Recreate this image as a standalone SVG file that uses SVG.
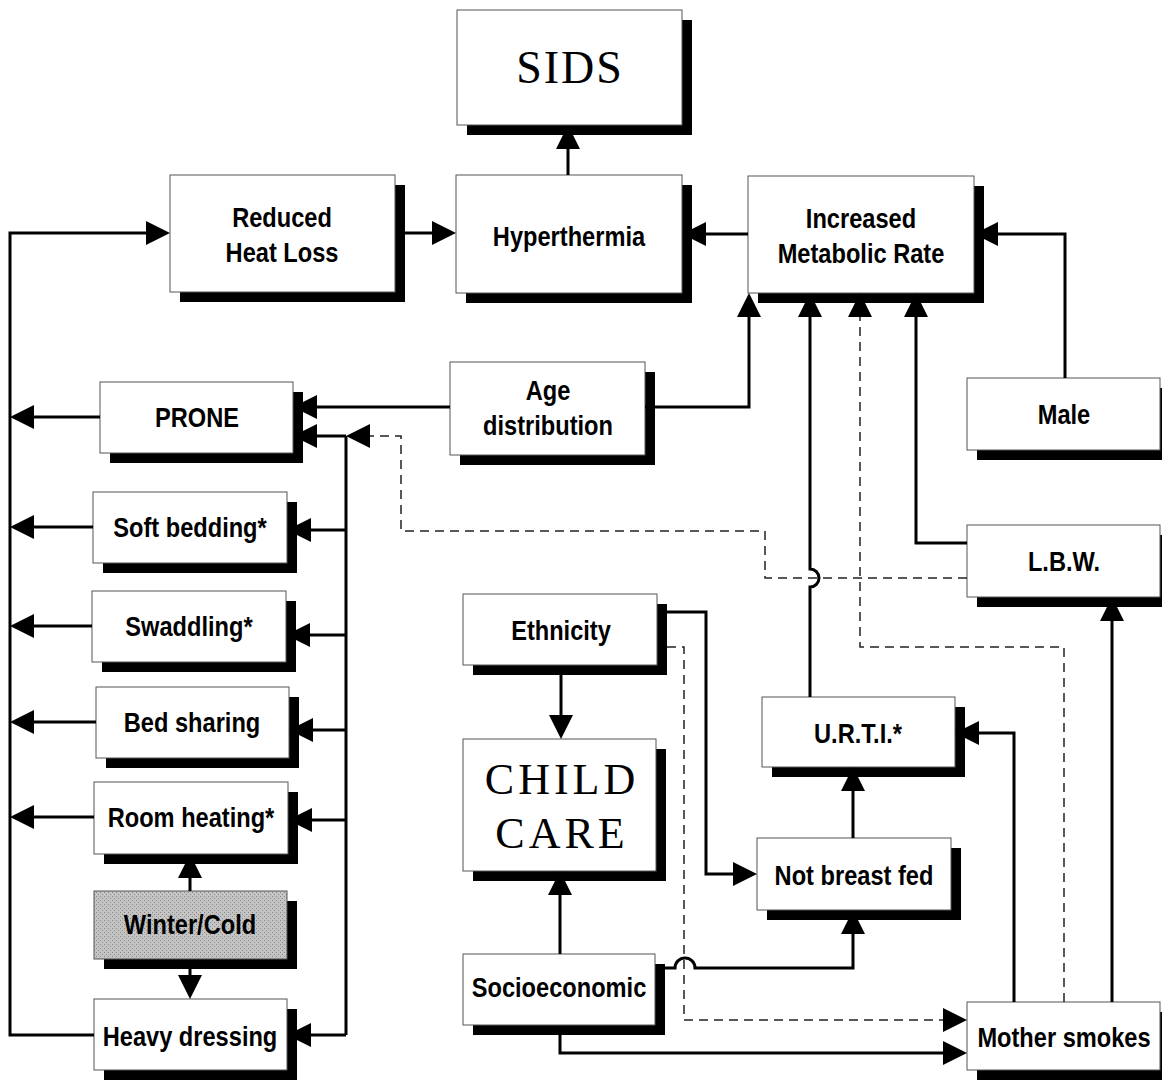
<svg xmlns="http://www.w3.org/2000/svg" width="1162" height="1080" viewBox="0 0 1162 1080">
<style>
.sh{fill:#000}
.bx{fill:#fff;stroke:#555;stroke-width:1}
.gray{fill:#b6b6b6;stroke:#555;stroke-width:1}
.t{font-family:"Liberation Sans",Arial,sans-serif;font-weight:bold;font-size:27px;fill:#000;text-anchor:middle}
.s{font-family:"Liberation Serif","Times New Roman",serif;font-weight:normal;fill:#000;text-anchor:middle}
.c{fill:none;stroke:#000;stroke-width:3}
.d{fill:none;stroke:#222;stroke-width:1.5;stroke-dasharray:9 6}
.a{marker-end:url(#ah)}
</style>
<defs>
<marker id="ah" markerUnits="userSpaceOnUse" markerWidth="24" markerHeight="24" viewBox="0 0 24 24" refX="0" refY="12" orient="auto">
<path d="M0,0 L24,12 L0,24 z" fill="#000"/>
</marker>
<pattern id="stip" width="4" height="4" patternUnits="userSpaceOnUse">
<rect width="4" height="4" fill="#c4c4c4"/>
<rect x="0" y="0" width="1" height="1" fill="#888"/>
<rect x="2" y="2" width="1" height="1" fill="#888"/>
</pattern>
</defs>
<rect width="1162" height="1080" fill="#fff"/>

<g id="sids"><rect class="sh" x="467" y="20" width="225" height="115"/><rect class="bx" x="457" y="10" width="225" height="115"/><text class="s" x="570" y="83" font-size="46" letter-spacing="2">SIDS</text></g>
<g id="reduced"><rect class="sh" x="180" y="185" width="225" height="117"/><rect class="bx" x="170" y="175" width="225" height="117"/><text class="t" transform="translate(282,0) scale(0.875,1)" x="0" y="227">Reduced</text><text class="t" transform="translate(282,0) scale(0.875,1)" x="0" y="262">Heat Loss</text></g>
<g id="hyperthermia"><rect class="sh" x="466" y="185" width="226" height="118"/><rect class="bx" x="456" y="175" width="226" height="118"/><text class="t" transform="translate(569,0) scale(0.875,1)" x="0" y="246">Hyperthermia</text></g>
<g id="increased"><rect class="sh" x="758" y="186" width="226" height="117"/><rect class="bx" x="748" y="176" width="226" height="117"/><text class="t" transform="translate(861,0) scale(0.875,1)" x="0" y="228">Increased</text><text class="t" transform="translate(861,0) scale(0.875,1)" x="0" y="263">Metabolic Rate</text></g>
<g id="age"><rect class="sh" x="460" y="372" width="195" height="93"/><rect class="bx" x="450" y="362" width="195" height="93"/><text class="t" transform="translate(548,0) scale(0.875,1)" x="0" y="400">Age</text><text class="t" transform="translate(548,0) scale(0.875,1)" x="0" y="435">distribution</text></g>
<g id="male"><rect class="sh" x="977" y="388" width="193" height="72"/><rect class="bx" x="967" y="378" width="193" height="72"/><text class="t" transform="translate(1064,0) scale(0.875,1)" x="0" y="424">Male</text></g>
<g id="lbw"><rect class="sh" x="977" y="535" width="193" height="72"/><rect class="bx" x="967" y="525" width="193" height="72"/><text class="t" transform="translate(1064,0) scale(0.875,1)" x="0" y="571">L.B.W.</text></g>
<g id="prone"><rect class="sh" x="110" y="392" width="193" height="71"/><rect class="bx" x="100" y="382" width="193" height="71"/><text class="t" transform="translate(197,0) scale(0.875,1)" x="0" y="427">PRONE</text></g>
<g id="softbedding"><rect class="sh" x="103" y="502" width="194" height="71"/><rect class="bx" x="93" y="492" width="194" height="71"/><text class="t" transform="translate(190,0) scale(0.875,1)" x="0" y="537">Soft bedding*</text></g>
<g id="swaddling"><rect class="sh" x="102" y="601" width="194" height="71"/><rect class="bx" x="92" y="591" width="194" height="71"/><text class="t" transform="translate(189,0) scale(0.875,1)" x="0" y="636">Swaddling*</text></g>
<g id="bedsharing"><rect class="sh" x="106" y="697" width="193" height="71"/><rect class="bx" x="96" y="687" width="193" height="71"/><text class="t" transform="translate(192,0) scale(0.875,1)" x="0" y="732">Bed sharing</text></g>
<g id="roomheating"><rect class="sh" x="104" y="792" width="194" height="72"/><rect class="bx" x="94" y="782" width="194" height="72"/><text class="t" transform="translate(191,0) scale(0.875,1)" x="0" y="827">Room heating*</text></g>
<g id="winter"><rect class="sh" x="104" y="901" width="193" height="68"/><rect class="gray" x="94" y="891" width="193" height="68" fill="url(#stip)" style="fill:url(#stip)"/><text class="t" transform="translate(190,0) scale(0.875,1)" x="0" y="934">Winter/Cold</text></g>
<g id="heavydressing"><rect class="sh" x="104" y="1009" width="193" height="71"/><rect class="bx" x="94" y="999" width="193" height="71"/><text class="t" transform="translate(190,0) scale(0.875,1)" x="0" y="1046">Heavy dressing</text></g>
<g id="ethnicity"><rect class="sh" x="473" y="604" width="194" height="71"/><rect class="bx" x="463" y="594" width="194" height="71"/><text class="t" transform="translate(561,0) scale(0.875,1)" x="0" y="640">Ethnicity</text></g>
<g id="childcare"><rect class="sh" x="473" y="749" width="193" height="132"/><rect class="bx" x="463" y="739" width="193" height="132"/><text class="s" x="562" y="794" font-size="44" letter-spacing="4">CHILD</text><text class="s" x="562" y="848" font-size="44" letter-spacing="4">CARE</text></g>
<g id="socioeconomic"><rect class="sh" x="473" y="964" width="192" height="71"/><rect class="bx" x="463" y="954" width="192" height="71"/><text class="t" transform="translate(559,0) scale(0.875,1)" x="0" y="997">Socioeconomic</text></g>
<g id="urti"><rect class="sh" x="772" y="707" width="193" height="70"/><rect class="bx" x="762" y="697" width="193" height="70"/><text class="t" transform="translate(858,0) scale(0.875,1)" x="0" y="743" font-size="24">U.R.T.I.*</text></g>
<g id="notbreastfed"><rect class="sh" x="767" y="848" width="194" height="72"/><rect class="bx" x="757" y="838" width="194" height="72"/><text class="t" transform="translate(854,0) scale(0.875,1)" x="0" y="885">Not breast fed</text></g>
<g id="mothersmokes"><rect class="sh" x="977" y="1012" width="193" height="68"/><rect class="bx" x="967" y="1002" width="193" height="68"/><text class="t" transform="translate(1064,0) scale(0.875,1)" x="0" y="1047">Mother smokes</text></g>

<g id="connectors">
<path class="c a" d="M405,233 H432"/>
<path class="c a" d="M568,175 V149"/>
<path class="c a" d="M748,234 H706"/>
<path class="c a" d="M1065,378 V234 H998"/>
<path class="c a" d="M967,543 H916 V317"/>
<path class="c a" d="M645,407 H749 V317"/>
<path class="c a" d="M810,697 V587 A9,9 0 0 0 810,569 V317"/>
<path class="c a" d="M1112,1002 V621"/>
<path class="c a" d="M1014,1002 V733 H979"/>
<path class="c a" d="M853,838 V791"/>
<path class="c a" d="M665,968 H675 A10,10 0 0 1 695,968 H853 V934"/>
<path class="c a" d="M560,954 V895"/>
<path class="c a" d="M560,1035 V1053 H943"/>
<path class="c a" d="M561,675 V715"/>
<path class="c a" d="M667,612 H706 V874 H733"/>
<path class="c a" d="M94,1035 H10 V233 H146"/>
<path class="c a" d="M100,417 H34"/>
<path class="c a" d="M93,527 H34"/>
<path class="c a" d="M92,626 H34"/>
<path class="c a" d="M96,722 H34"/>
<path class="c a" d="M94,817 H34"/>
<path class="c" d="M346,436 V1035"/>
<path class="c a" d="M346,436 H317"/>
<path class="c a" d="M346,530 H311"/>
<path class="c a" d="M346,635 H310"/>
<path class="c a" d="M346,730 H313"/>
<path class="c a" d="M346,820 H312"/>
<path class="c a" d="M346,1035 H311"/>
<path class="c a" d="M450,407 H317"/>
<path class="c a" d="M190,891 V878"/>
<path class="c a" d="M190,969 V975"/>
<path class="d a" d="M967,578 H765 V531 H401 V436 H370"/>
<path class="d a" d="M1064,1002 V647 H860 V317"/>
<path class="d a" d="M667,647 H684 V1020 H943"/>
</g>
</svg>
